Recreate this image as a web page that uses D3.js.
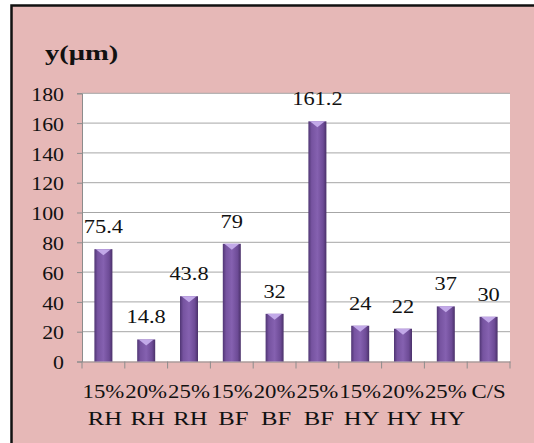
<!DOCTYPE html>
<html>
<head>
<meta charset="utf-8">
<script src="https://cdn.jsdelivr.net/npm/d3@7"></script>
<style>
  body { margin: 0; background: #fff; }
  svg { display: block; }
  svg text { font-family: "Liberation Serif", "Times New Roman", Tinos, serif; fill: #111; }
</style>
</head>
<body>
<div id="chart"></div>
<script>
// values
var catTop = ["15%","20%","25%","15%","20%","25%","15%","20%","25%","C/S"];
var catBottom = ["RH","RH","RH","BF","BF","BF","HY","HY","HY",""];
var values = [75.4,14.8,43.8,79,32,161.2,24,22,37,30];
var valueLabels = ["75.4","14.8","43.8","79","32","161.2","24","22","37","30"];
var yTicks = [0,20,40,60,80,100,120,140,160,180];
var title = "y(\u03bcm)";

var W = 534, H = 443;
var plot = {left: 82, right: 510, top: 93.3, bottom: 361.5};
var serif = "Liberation Serif";

var svg = d3.select("#chart").append("svg")
  .attr("width", W).attr("height", H);

// pink frame
svg.append("rect").attr("x", 0).attr("y", 0).attr("width", W).attr("height", H).attr("fill", "#fff");
svg.append("rect")
  .attr("x", 11.5).attr("y", 5.5).attr("width", W).attr("height", H)
  .attr("fill", "#e6b8b7").attr("stroke", "#111").attr("stroke-width", 2.5);

var x = d3.scaleBand()
  .domain(d3.range(values.length))
  .range([plot.left, plot.right])
  .padding(0);

var y = d3.scaleLinear()
  .domain([0, 180])
  .range([plot.bottom, plot.top]);

var defs = svg.append("defs");
var g = defs.append("linearGradient").attr("id", "barGrad")
  .attr("x1", "0%").attr("x2", "100%").attr("y1", "0%").attr("y2", "0%");
g.append("stop").attr("offset", "0%").attr("stop-color", "#4f3573");
g.append("stop").attr("offset", "18%").attr("stop-color", "#7653a0");
g.append("stop").attr("offset", "50%").attr("stop-color", "#8561b0");
g.append("stop").attr("offset", "82%").attr("stop-color", "#6d4b96");
g.append("stop").attr("offset", "100%").attr("stop-color", "#4a3169");

// plot area
svg.append("rect")
  .attr("x", plot.left).attr("y", plot.top)
  .attr("width", plot.right - plot.left).attr("height", plot.bottom - plot.top)
  .attr("fill", "#fff");

// grid lines
svg.append("g")
  .selectAll("line")
  .data(yTicks.filter(function(d){ return d > 0; }))
  .join("line")
  .attr("x1", plot.left).attr("x2", plot.right)
  .attr("y1", function(d){ return y(d); })
  .attr("y2", function(d){ return y(d); })
  .attr("stroke", "#a6a6a6").attr("stroke-width", 1);

// y axis
var yAxis = svg.append("g")
  .attr("transform", "translate(" + plot.left + ",0)")
  .call(d3.axisLeft(y).tickValues(yTicks).tickSize(5).tickPadding(8).tickFormat(d3.format("d")));
yAxis.attr("font-family", serif).attr("font-size", null);
yAxis.select(".domain").attr("stroke", "#8c8c8c");
yAxis.selectAll(".tick line").attr("stroke", "#8c8c8c");
yAxis.selectAll(".tick text")
  .attr("font-family", serif)
  .attr("font-size", 19)
  .attr("dy", "0.38em")
  .attr("x", 0)
  .attr("transform", "translate(-18,0) scale(1.15,1)");

// x axis
var xAxis = svg.append("g")
  .attr("transform", "translate(0," + plot.bottom + ")")
  .call(d3.axisBottom(x).tickSize(0).tickFormat(""));
xAxis.select(".domain").attr("stroke", "#8c8c8c");
xAxis.selectAll(".tick").remove();
xAxis.selectAll(".sep")
  .data(d3.range(values.length + 1))
  .join("line")
  .attr("x1", function(d){ return plot.left + d * x.bandwidth(); })
  .attr("x2", function(d){ return plot.left + d * x.bandwidth(); })
  .attr("y1", 0).attr("y2", 7)
  .attr("stroke", "#8c8c8c");

// bars
var barW = 18;
var bars = svg.append("g").selectAll("g")
  .data(values)
  .join("g");

bars.append("rect")
  .attr("x", function(d, i){ return x(i) + x.bandwidth()/2 - barW/2; })
  .attr("y", function(d){ return y(d); })
  .attr("width", barW)
  .attr("height", function(d){ return plot.bottom - y(d); })
  .attr("fill", "url(#barGrad)");

bars.append("path")
  .attr("d", function(d, i){
    var cx = x(i) + x.bandwidth()/2, t = y(d);
    return "M" + (cx - barW/2 + 1.5) + "," + t + "L" + (cx + barW/2 - 1.5) + "," + t + "L" + cx + "," + (t + 6) + "Z";
  })
  .attr("fill", "#c2a9e8");

// value labels
svg.append("g").selectAll("text")
  .data(values)
  .join("text")
  .attr("transform", function(d, i){
    return "translate(" + (x(i) + x.bandwidth()/2) + "," + (y(d) - 16) + ") scale(1.18,1)";
  })
  .attr("text-anchor", "middle")
  .attr("font-family", serif)
  .attr("font-size", 19)
  .text(function(d, i){ return valueLabels[i]; });

// category labels (two lines)
var cats = svg.append("g").selectAll("g")
  .data(catTop)
  .join("g");
cats.append("text")
  .attr("transform", function(d, i){ return "translate(" + (x(i) + x.bandwidth()/2) + ",398) scale(1.2,1)"; })
  .attr("text-anchor", "middle")
  .attr("font-family", serif)
  .attr("font-size", 19)
  .text(function(d){ return d; });
cats.append("text")
  .attr("transform", function(d, i){ return "translate(" + (x(i) + x.bandwidth()/2 + 1.5) + ",425) scale(1.3,1)"; })
  .attr("text-anchor", "middle")
  .attr("font-family", serif)
  .attr("font-size", 19)
  .text(function(d, i){ return catBottom[i]; });

// title
svg.append("text")
  .attr("transform", "translate(45,60) scale(1.3,1)")
  .attr("font-family", serif)
  .attr("font-size", 22).attr("font-weight", "bold")
  .text(title);
</script>
</body>
</html>
